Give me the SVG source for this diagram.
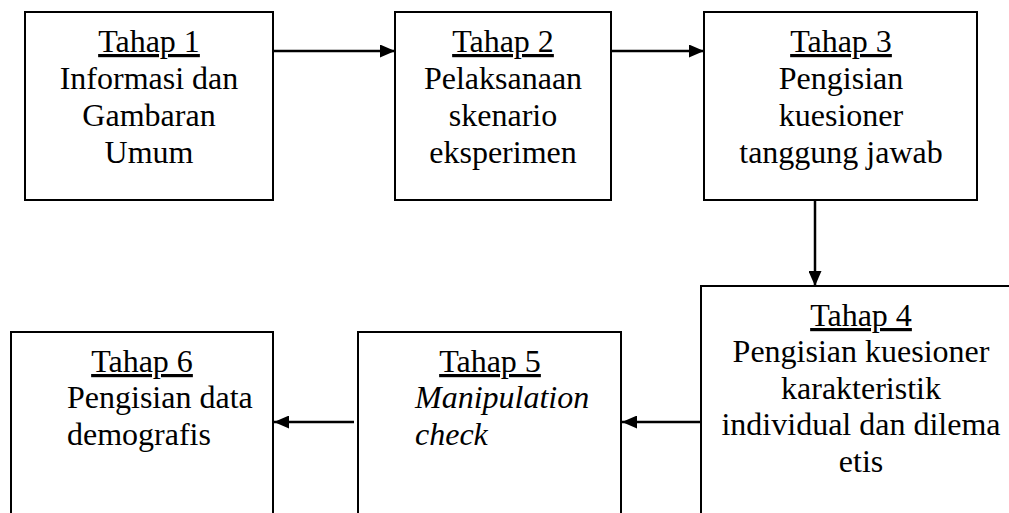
<svg xmlns="http://www.w3.org/2000/svg" width="1009" height="513" viewBox="0 0 1009 513">
<defs>
<style>
.box{fill:#fff;stroke:#000;stroke-width:2}
.t{font-size:32px;fill:#000}
.c{text-anchor:middle}
.u{text-decoration:underline}
.i{font-style:italic}
.conn{stroke:#000;stroke-width:2.5;fill:none;marker-end:url(#ah)}
</style>
<marker id="ah" viewBox="0 0 15 13" refX="15" refY="6.5" markerWidth="15" markerHeight="13" markerUnits="userSpaceOnUse" orient="auto">
<path d="M0,0 L15,6.5 L0,13 Z" fill="#000"/>
</marker>
</defs>
<rect width="1009" height="513" fill="#fff"/>
<g font-family="'Liberation Serif', 'Times New Roman', Times, 'DejaVu Serif', serif">
<g id="tahap1">
<rect class="box" x="25" y="12" width="248" height="188"/>
<text class="t c u" x="149" y="52">Tahap 1</text>
<text class="t c" x="149" y="89">Informasi dan</text>
<text class="t c" x="149" y="126">Gambaran</text>
<text class="t c" x="149" y="163">Umum</text>
</g>
<g id="tahap2">
<rect class="box" x="395" y="12" width="216" height="188"/>
<text class="t c u" x="503" y="52">Tahap 2</text>
<text class="t c" x="503" y="89">Pelaksanaan</text>
<text class="t c" x="503" y="126">skenario</text>
<text class="t c" x="503" y="163">eksperimen</text>
</g>
<g id="tahap3">
<rect class="box" x="704" y="12" width="273" height="188"/>
<text class="t c u" x="841" y="52">Tahap 3</text>
<text class="t c" x="841" y="89">Pengisian</text>
<text class="t c" x="841" y="126">kuesioner</text>
<text class="t c" x="841" y="163">tanggung jawab</text>
</g>
<g id="tahap4">
<rect class="box" x="701" y="286" width="320" height="240"/>
<text class="t c u" x="861" y="326">Tahap 4</text>
<text class="t c" x="861" y="362">Pengisian kuesioner</text>
<text class="t c" x="861" y="399">karakteristik</text>
<text class="t c" x="861" y="435">individual dan dilema</text>
<text class="t c" x="861" y="472">etis</text>
</g>
<g id="tahap5">
<rect class="box" x="358" y="332" width="263" height="200"/>
<text class="t c u" x="490" y="372">Tahap 5</text>
<text class="t i" x="415" y="408">Manipulation</text>
<text class="t i" x="415" y="445">check</text>
</g>
<g id="tahap6">
<rect class="box" x="11" y="332" width="262" height="200"/>
<text class="t c u" x="142" y="372">Tahap 6</text>
<text class="t" x="67" y="408">Pengisian data</text>
<text class="t" x="67" y="445">demografis</text>
</g>
</g>
<g id="connectors">
<line class="conn" x1="273" y1="51" x2="395" y2="51"/>
<line class="conn" x1="611" y1="51" x2="704" y2="51"/>
<line class="conn" x1="815" y1="200" x2="815" y2="286"/>
<line class="conn" x1="701" y1="422" x2="622" y2="422"/>
<line class="conn" x1="354" y1="422" x2="274" y2="422"/>
</g>
</svg>
